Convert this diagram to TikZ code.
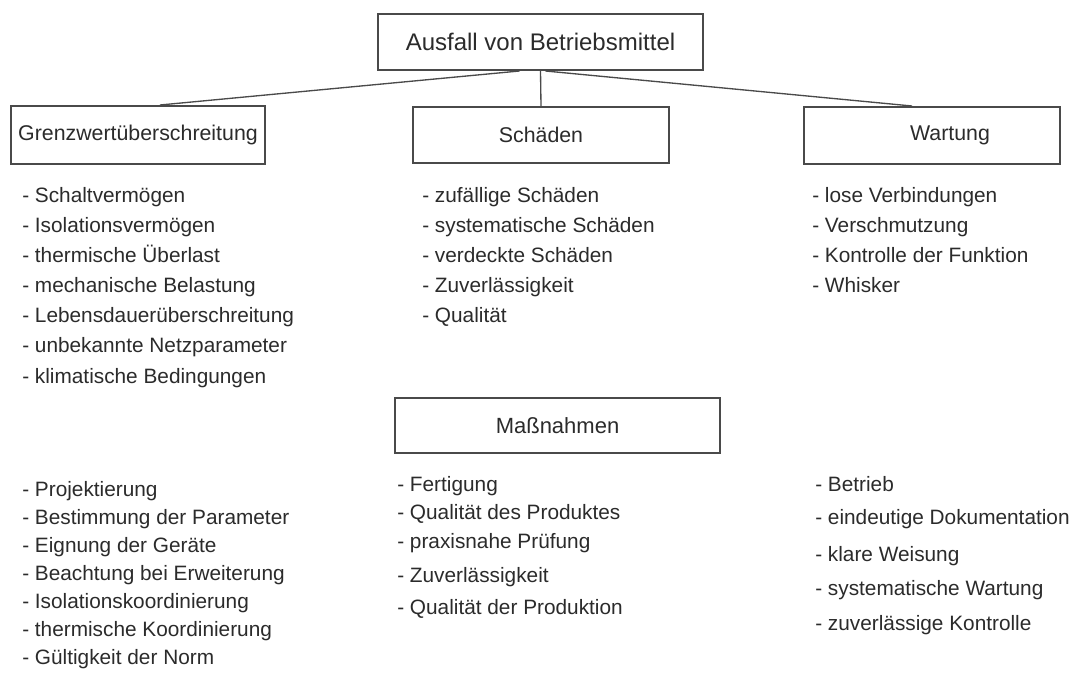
\documentclass[tikz,border=0pt]{standalone}
\usepackage{fontspec}
\setmainfont{Liberation Sans}
\usetikzlibrary{positioning,calc}
\definecolor{linegray}{HTML}{4A4A4A}
\definecolor{textgray}{HTML}{2B2B2B}
\begin{document}
\begin{tikzpicture}[x=0.75pt, y=-0.75pt,
        box/.style={rectangle, draw=linegray, line width=1.5pt, text=textgray, minimum width=192pt, minimum height=42pt, font=\fontsize{16}{19}\selectfont},
        link/.style={draw=linegray, line width=1pt},
        item/.style={anchor=base west, inner sep=0pt, text=textgray, font=\fontsize{15.6}{18}\selectfont}
    ]
    \fill[white] (0,0) rectangle (1071,677);
    % Boxes
    \node[box, minimum width=243.75pt, font=\fontsize{18}{21}\selectfont] (ausfall) at (540.5,42) {Ausfall von Betriebsmittel};
    \node[box, minimum width=190.5pt, minimum height=43.5pt] (grenz) at (138,135) {Grenzwertüberschreitung};
    \node[box] (schaeden) at (541,135) {Schäden};
    \node[box, minimum height=42.75pt] (wartung) at (932,135.5) {\hspace*{27pt}Wartung};
    \node[box, minimum width=243.75pt, minimum height=41.25pt, font=\fontsize{16.5}{19}\selectfont] (massn) at (557.5,425.5) {Maßnahmen};

    % Connectors
    \draw[link] ($(ausfall.south)+(-21,0)$) -- ($(grenz.north)+(22,0)$);
    \draw[link] (ausfall.south) -- (schaeden.north);
    \draw[link] ($(ausfall.south)+(5,0)$) -- ($(wartung.north)+(-20,0)$);

    % Lists
    \foreach \txt/\yy [count=\i] in {Schaltvermögen/203, Isolationsvermögen/233, thermische Überlast/263, mechanische Belastung/293, Lebensdauerüberschreitung/323, unbekannte Netzparameter/353, klimatische Bedingungen/383}
        \node[item] (g\i) at (22,\yy) {- \txt};
    \foreach \txt/\yy [count=\i] in {zufällige Schäden/203, systematische Schäden/233, verdeckte Schäden/263, Zuverlässigkeit/293, Qualität/323}
        \node[item] (s\i) at (422,\yy) {- \txt};
    \foreach \txt/\yy [count=\i] in {lose Verbindungen/203, Verschmutzung/233, Kontrolle der Funktion/263, Whisker/293}
        \node[item] (w\i) at (812,\yy) {- \txt};
    \foreach \txt/\yy [count=\i] in {Projektierung/496, Bestimmung der Parameter/524, Eignung der Geräte/552, Beachtung bei Erweiterung/580, Isolationskoordinierung/608, thermische Koordinierung/636, Gültigkeit der Norm/664}
        \node[item] (p\i) at (22,\yy) {- \txt};
    \foreach \txt/\yy [count=\i] in {Fertigung/491, Qualität des Produktes/519, praxisnahe Prüfung/548, Zuverlässigkeit/582, Qualität der Produktion/614}
        \node[item] (f\i) at (397,\yy) {- \txt};
    \foreach \txt/\yy [count=\i] in {Betrieb/491, eindeutige Dokumentation/524, klare Weisung/561, systematische Wartung/595, zuverlässige Kontrolle/630}
        \node[item] (b\i) at (815,\yy) {- \txt};
\end{tikzpicture}
\end{document}
